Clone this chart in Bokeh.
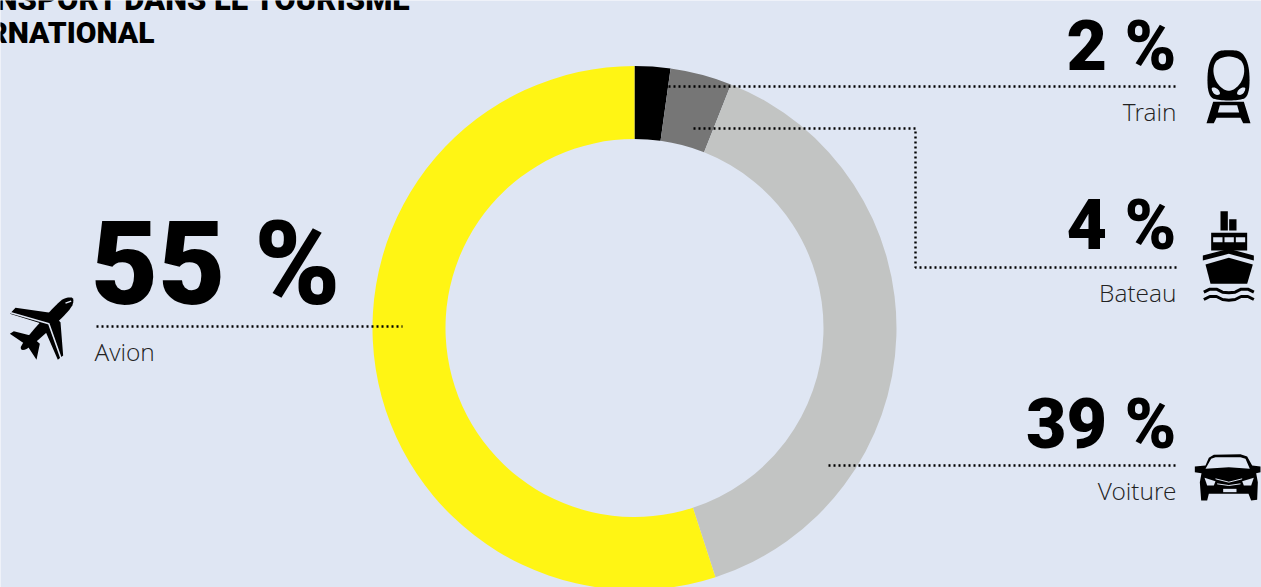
import numpy as np
from bokeh.plotting import figure
from bokeh.models import Range1d
from bokeh.core.properties import value
from bokeh.embed import file_html
from bokeh.resources import INLINE

W, H = 1261, 587
categories = ["Train", "Bateau", "Voiture", "Avion"]
shares = [2.2, 3.8, 39, 55]
share_labels = ["2 %", "4 %", "39 %", "55 %"]
colors = ["#000000", "#767676", "#C2C4C3", "#FFF514"]
title_lines = ["TRANSPORT DANS LE TOURISME", "INTERNATIONAL"]
BG = "#DFE6F3"
BIG = "Roboto Black"
LIGHT = "Open Sans Light"

p = figure(width=W, height=H, x_range=Range1d(0, W), y_range=Range1d(0, H),
           output_backend="svg", toolbar_location=None, min_border=0,
           background_fill_color=BG, border_fill_color=BG, outline_line_color=None)
p.axis.visible = False
p.grid.visible = False

def Y(y):
    return H - y

# donut
s = np.array(shares, dtype=float)
ends = np.cumsum(s) / s.sum() * 2 * np.pi
starts = np.concatenate([[0], ends[:-1]])
p.annular_wedge(x=[634] * 4, y=[Y(327.5)] * 4, inner_radius=189, outer_radius=262,
                start_angle=list(np.pi / 2 - starts), end_angle=list(np.pi / 2 - ends),
                direction="clock", fill_color=colors, line_color=None)

# leader lines
for xs, ys in [([668, 1176], [86, 86]),
               ([693, 915, 915, 1176], [128, 128, 267, 267]),
               ([828, 1176], [465, 465]),
               ([96, 402], [326, 326])]:
    p.line(xs, [Y(v) for v in ys], line_color="#000000", line_width=2.4, line_dash="2 3")

# texts: the SVG backend draws the "alphabetic" baseline about 0.36 em too low
def txt(x, y, t, size, font=LIGHT, align="right", color="#000000"):
    p.text(x=[x], y=[Y(y - 0.36 * size)], text=[t], text_font=value(font), text_font_size=f"{size}px",
           text_align=align, text_baseline="alphabetic", text_color=color)

txt(340, 305, share_labels[3], 116, BIG)
txt(1176, 71, share_labels[0], 70, BIG)
txt(1176, 250, share_labels[1], 70, BIG)
txt(1176, 449, share_labels[2], 70, BIG)
txt(94, 360, categories[3], 24.5, align="left", color="#222222")
txt(1176, 120, categories[0], 24.5, color="#222222")
txt(1176, 301, categories[1], 24.5, color="#222222")
txt(1176, 499, categories[2], 24.5, color="#222222")
txt(411, 10, title_lines[0], 31, BIG)
txt(154, 43, title_lines[1], 30, BIG)

# icons
def smooth(pts, n=3):
    a = np.array(pts, dtype=float)
    for _ in range(n):
        b = np.roll(a, -1, axis=0)
        a = np.column_stack([0.75 * a + 0.25 * b, 0.25 * a + 0.75 * b]).reshape(-1, 2)
    return [tuple(v) for v in a]

def shape(pts, ox, oy, color="#000000"):
    p.patch([ox + a / 3 for a, _ in pts], [Y(oy + b / 3) for _, b in pts],
            fill_color=color, line_color=None)

def stroke(pts, ox, oy, w, color="#000000"):
    p.line([ox + a / 3 for a, _ in pts], [Y(oy + b / 3) for _, b in pts],
           line_color=color, line_width=w, line_join="round")

# plane
o = (0, 280)
shape([(45, 82), (150, 97), (180, 125), (188, 225), (172, 238), (125, 130), (28, 100)], *o)
shape([(40, 152), (90, 165), (118, 190), (108, 238), (80, 195), (28, 160)], *o)
shape(smooth([(222, 52), (200, 50), (175, 62), (60, 192), (62, 212), (90, 200), (212, 88)], 2), *o)
stroke([(28, 96), (145, 130), (182, 235)], *o, 1.6, BG)
stroke([(195, 68), (212, 62)], *o, 1.5, BG)

# train
o = (1090, 30)
shape(smooth([(352, 200), (350, 110), (375, 62), (415, 58), (455, 62), (478, 110), (476, 200), (440, 210), (390, 210)]), *o)
shape(smooth([(366, 125), (375, 88), (415, 75), (455, 88), (464, 125), (448, 165), (415, 186), (382, 165)]), *o, BG)
shape(smooth([(360, 170), (380, 172), (392, 192), (372, 194)], 2), *o, BG)
shape(smooth([(468, 170), (448, 172), (436, 192), (456, 194)], 2), *o, BG)
shape([(368, 214), (460, 214), (480, 278), (458, 278), (450, 262), (378, 262), (370, 278), (348, 278)], *o)
shape([(388, 224), (440, 224), (446, 246), (382, 246)], *o, BG)

# ship
o = (1090, 200)
shape([(390, 32), (412, 32), (412, 90), (390, 90)], *o)
shape([(416, 56), (438, 56), (438, 90), (416, 90)], *o)
shape([(362, 97), (470, 97), (470, 150), (362, 150)], *o)
for a in (368, 402, 436):
    shape([(a, 110), (a + 28, 110), (a + 28, 125), (a, 125)], *o, BG)
shape([(337, 165), (415, 145), (490, 165), (490, 180), (415, 160), (337, 180)], *o)
shape([(345, 192), (415, 172), (487, 192), (470, 250), (360, 250)], *o)
for b in (272, 294):
    stroke([(340, b + 3), (358, b - 6), (378, b - 6), (396, b + 3), (415, b + 5), (434, b + 3), (452, b - 6), (472, b - 6), (490, b + 3)], *o, 3)

# car
o = (1090, 440)
shape([(345, 75), (355, 52), (370, 43), (450, 41), (470, 48), (485, 75), (510, 78), (510, 95), (497, 98),
       (502, 125), (500, 178), (482, 180), (474, 160), (355, 160), (350, 180), (332, 180), (328, 125),
       (333, 98), (313, 95), (313, 78)], *o)
shape([(345, 85), (362, 55), (375, 50), (450, 50), (465, 55), (478, 85), (415, 80)], *o, BG)
shape([(342, 112), (375, 122), (370, 135), (350, 135)], *o, BG)
shape([(490, 112), (455, 122), (460, 135), (482, 135)], *o, BG)
stroke([(375, 115), (415, 125), (455, 115)], *o, 1, BG)
stroke([(380, 130), (415, 135), (450, 130)], *o, 1, BG)
shape([(398, 145), (438, 145), (438, 155), (398, 155)], *o, BG)

html = file_html(p, INLINE)
html = html.replace("</head>", "<style>html,body{margin:0;padding:0;overflow:hidden}</style></head>", 1)
open("out.html", "w").write(html)
